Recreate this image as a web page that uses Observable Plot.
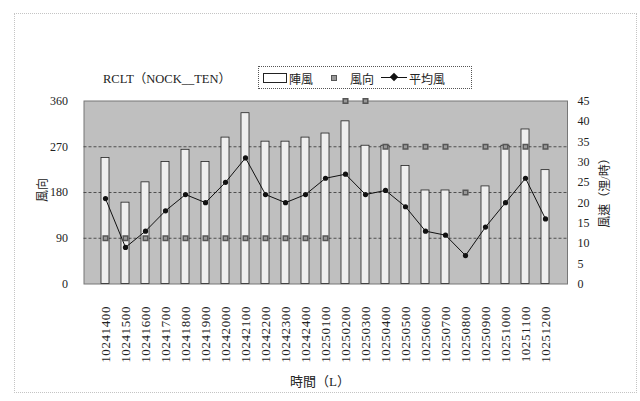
<!DOCTYPE html>
<html>
<head>
<meta charset="utf-8">
<script src="https://cdn.jsdelivr.net/npm/d3@7"></script>
<script src="https://cdn.jsdelivr.net/npm/@observablehq/plot@0.6"></script>
<style>
  html, body { margin: 0; padding: 0; background: #fff; }
  #wrap { position: relative; width: 640px; height: 401px; overflow: hidden;
          font-family: "Liberation Serif", "Noto Sans CJK TC", serif; color: #222; }
  #wrap svg { position: absolute; left: 0; top: 0; }
  #wrap svg g[aria-label="x-axis tick label"] text { letter-spacing: 0.6px; }
  .abs { position: absolute; white-space: nowrap; }
  #outer { position: absolute; left: 14px; top: 13px; width: 621px; height: 378px;
           border: 1px dotted #c4c4c4; }
  #title { left: 103px; top: 68px; font-size: 12.5px; }
  #legend { left: 258px; top: 66px; width: 212px; height: 21px; border: 1px dotted #555;
            font-size: 12px; }
  .rot { transform: translate(-50%, -50%) rotate(-90deg); }
</style>
</head>
<body>
<div id="wrap">
  <div id="outer"></div>
  <div id="chart"></div>
  <div id="title" class="abs">RCLT（NOCK__TEN）</div>
  <div id="legend" class="abs">
    <div class="abs" style="left:4px;top:6px;width:22px;height:8px;border:1px solid #222;background:#fff;"></div>
    <div class="abs" style="left:30px;top:3px;">陣風</div>
    <div class="abs" style="left:72px;top:8px;width:4px;height:4px;border:1px solid #555;background:#999;"></div>
    <div class="abs" style="left:91px;top:3px;">風向</div>
    <div class="abs" style="left:122px;top:10px;width:26px;height:1px;background:#111;"></div>
    <div class="abs" style="left:132px;top:7px;width:6px;height:6px;background:#111;transform:rotate(45deg);"></div>
    <div class="abs" style="left:150px;top:3px;">平均風</div>
  </div>
  <div class="abs rot" style="left:42px;top:190px;font-size:12px;">風向</div>
  <div class="abs rot" style="left:604px;top:190px;font-size:12px;">風速（浬/時）</div>
  <div class="abs" style="left:320px;top:380px;transform:translate(-50%,-50%);font-size:13px;">時間（L）</div>
</div>
<script>
const times = ["10241400","10241500","10241600","10241700","10241800","10241900","10242000",
  "10242100","10242200","10242300","10242400","10250100","10250200","10250300","10250400",
  "10250500","10250600","10250700","10250800","10250900","10251000","10251100","10251200"];
const gust = [31,20,25,30,33,30,36,42,35,35,36,37,40,34,34,29,23,23,null,24,34,38,28];
const avgWind = [21,9,13,18,22,20,25,31,22,20,22,26,27,22,23,19,13,12,7,14,20,26,16];
const direction = [90,90,90,90,90,90,90,90,90,90,90,90,360,360,270,270,270,270,180,270,270,270,270];
const speedTicks = [0,5,10,15,20,25,30,35,40,45];
const dirTicks = [0,90,180,270,360];

const k = 45 / 360;
const rows = times.map((t, i) => ({t, gust: gust[i], avg: avgWind[i], dir: direction[i] * k}));

const chart = Plot.plot({
  width: 640, height: 401,
  marginLeft: 83.5, marginRight: 73, marginTop: 100.5, marginBottom: 117.5,
  style: {fontFamily: '"Liberation Serif", "Noto Sans CJK TC", serif', fontSize: "12px", color: "#222", background: "transparent"},
  x: {domain: times, padding: 0.6},
  y: {domain: [0, 45]},
  marks: [
    Plot.frame({fill: "#bfbfbf", stroke: "#777"}),
    Plot.ruleY(dirTicks.slice(1, 4).map(d => d * k), {stroke: "#333", strokeDasharray: "3,2", strokeWidth: 0.8}),
    Plot.barY(rows, {x: "t", y: "gust", fill: "#efefef", stroke: "#222", strokeWidth: 0.8}),
    Plot.line(rows, {x: "t", y: "avg", stroke: "#111", strokeWidth: 1}),
    Plot.dot(rows, {x: "t", y: "avg", fill: "#111", r: 2.6}),
    Plot.dot(rows, {x: "t", y: "dir", symbol: "square", fill: "#999", stroke: "#555", r: 2.6}),
    Plot.axisY({anchor: "left", ticks: dirTicks.map(d => d * k), tickFormat: v => Math.round(v / k), tickSize: 0, tickPadding: 16, label: null, fontSize: 12}),
    Plot.axisY({anchor: "right", ticks: speedTicks, tickSize: 0, tickPadding: 10, label: null, fontSize: 12}),
    Plot.axisX({tickRotate: -90, tickSize: 0, tickPadding: 22, label: null, fontSize: 13})
  ]
});
document.getElementById("chart").appendChild(chart);
</script>
</body>
</html>
